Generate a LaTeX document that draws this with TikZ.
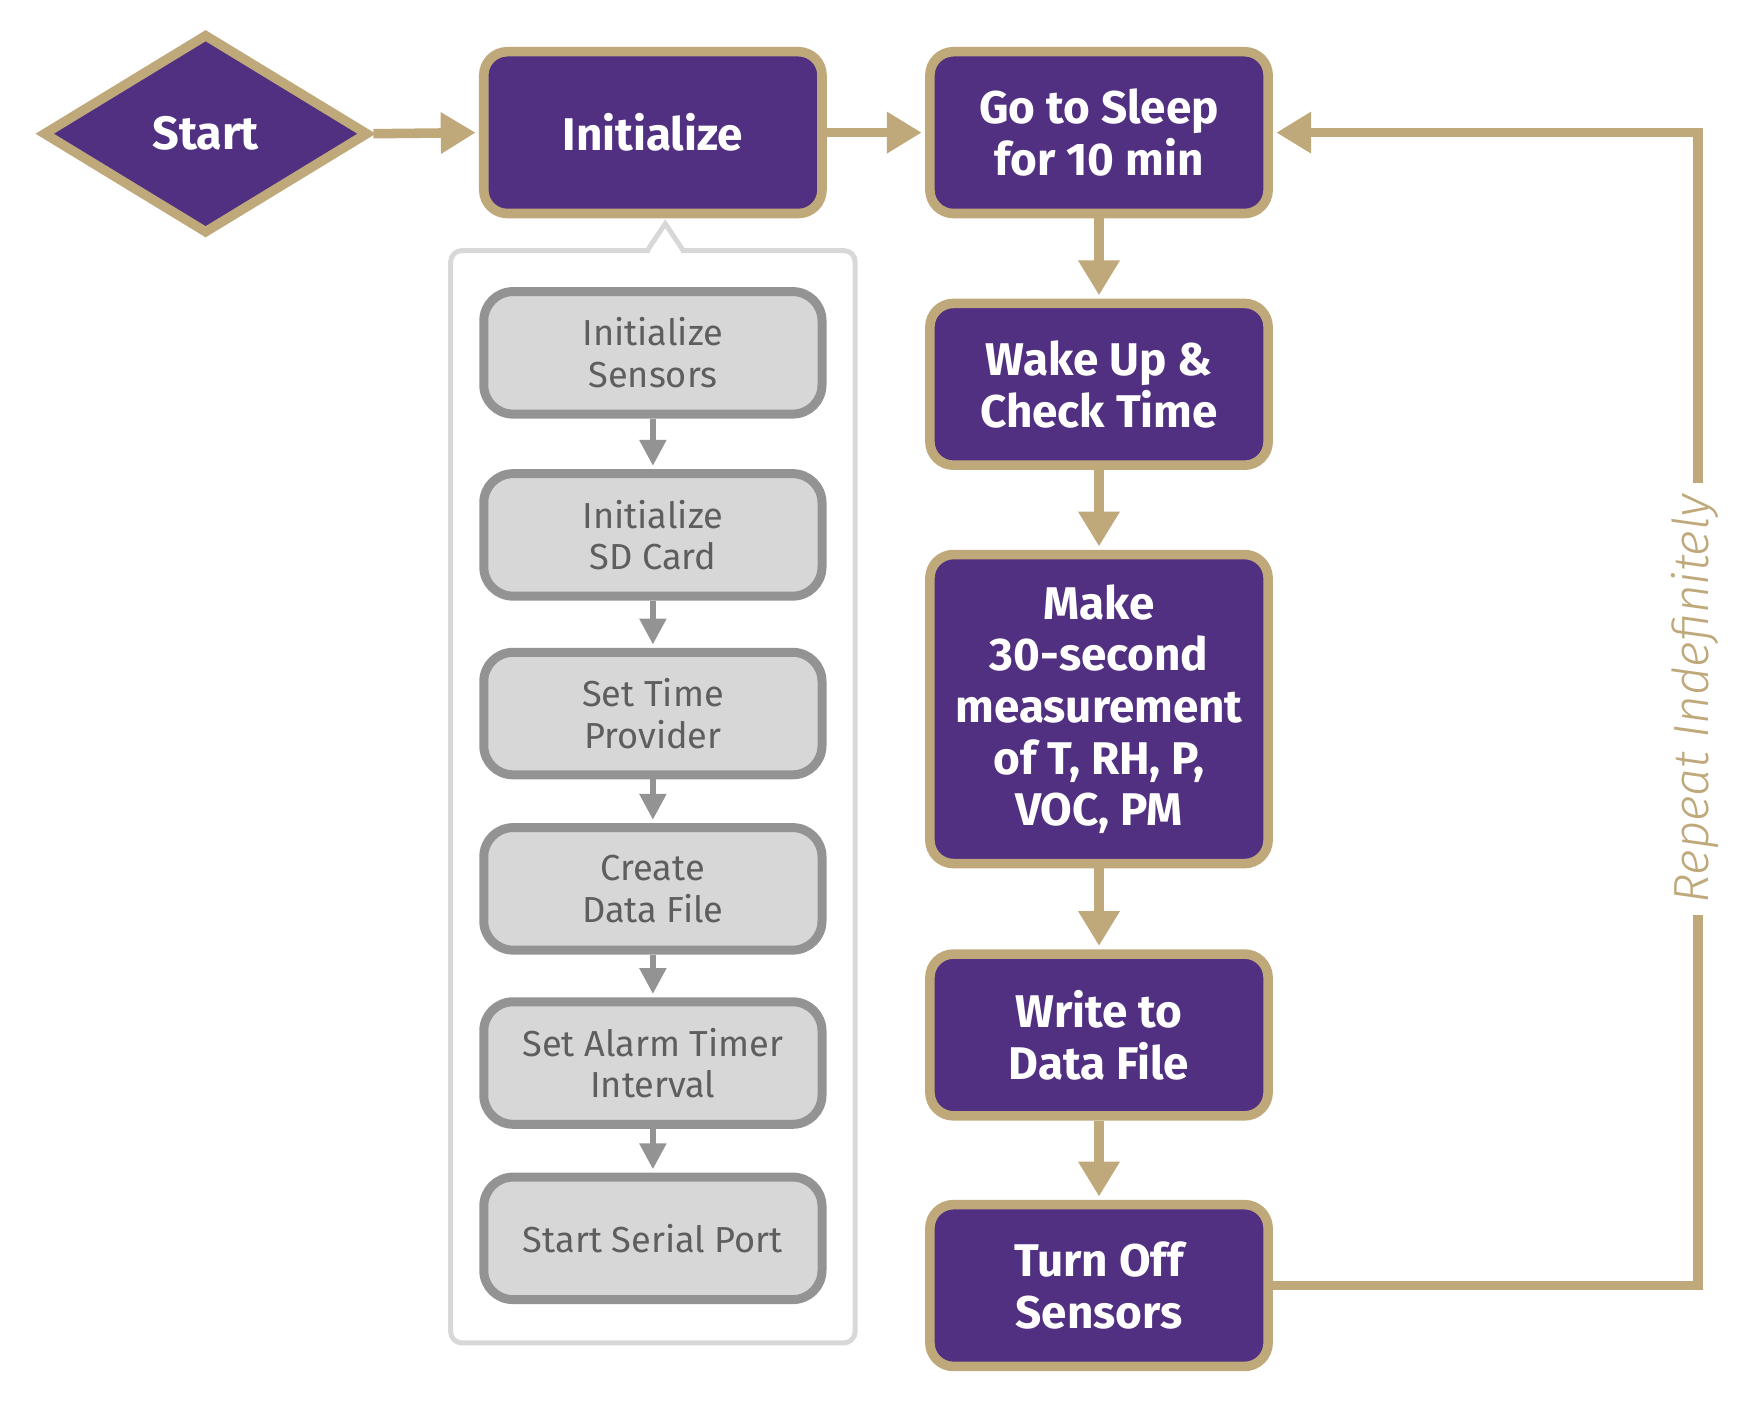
\documentclass[tikz,border=0pt]{standalone}
\usepackage{fontspec}
\setmainfont{Fira Sans}
\newfontfamily\repfont{Fira Sans Light}
\usetikzlibrary{shapes.geometric,arrows.meta}
\definecolor{uwpurple}{RGB}{82,48,129}
\definecolor{uwgold}{RGB}{191,168,122}
\definecolor{gfill}{RGB}{215,215,215}
\definecolor{gborder}{RGB}{147,147,147}
\definecolor{gtext}{RGB}{94,94,94}
\definecolor{panelc}{RGB}{216,216,216}
\begin{document}
\begin{tikzpicture}[x=0.5pt,y=-0.5pt,
  pbox/.style={draw=uwgold, line width=4.25pt, fill=uwpurple, rounded corners=10.5pt,
    minimum width=150.5pt, minimum height=72pt, inner sep=0pt, align=center,
    text=white, font=\fontsize{20.4}{23}\selectfont\bfseries},
  dnode/.style={diamond, draw=uwgold, line width=4.25pt, fill=uwpurple,
    minimum width=145pt, minimum height=89pt, inner sep=0pt,
    text=white, font=\fontsize{20.8}{23}\selectfont\bfseries},
  gbox/.style={draw=gborder, line width=4pt, fill=gfill, rounded corners=13pt,
    minimum width=150.5pt, minimum height=54.5pt, inner sep=0pt, align=center,
    text=gtext, font=\fontsize{16.1}{18.5}\selectfont},
  goldarrow/.style={draw=uwgold, line width=4.25pt, line join=miter,
    -{Triangle[length=15.5pt,width=17.5pt]}, shorten >=1.5pt},
  grayarrow/.style={draw=gborder, line width=2.5pt,
    -{Triangle[length=11.5pt,width=11.5pt]}, shorten >=1.5pt},
  panel/.style={draw=panelc, line width=2.2pt}
]
\useasboundingbox (0,0) rectangle (1568,1257);

% panel behind the initialisation steps
\draw[panel, rounded corners=5pt] (401,223) rectangle (761,1195);
\fill[white] (578,219) rectangle (606,227);
\draw[panel, line join=miter] (576,223) -- (592,199) -- (608,223);

% main nodes
\node[dnode] (start) at (183,119) {Start};
\node[pbox] (init) at (581,118) {Initialize};
\node[pbox] (sleep) at (978,118) {Go to Sleep\\for 10 min};
\node[pbox] (wake) at (978,342) {Wake Up \&\\Check Time};
\node[pbox, minimum height=137.5pt] (meas) at (978,631) {Make\\30-second\\measurement\\of T, RH, P,\\VOC, PM};
\node[pbox] (write) at (978,921) {Write to\\Data File};
\node[pbox] (off) at (978,1144) {Turn Off\\Sensors};

% gray sub-steps
\node[gbox] (g1) at (581,314) {Initialize\\Sensors};
\node[gbox] (g2) at (581,476) {Initialize\\SD Card};
\node[gbox] (g3) at (581,635) {Set Time\\Provider};
\node[gbox] (g4) at (581,791) {Create\\Data File};
\node[gbox] (g5) at (581,946) {Set Alarm Timer\\Interval};
\node[gbox] (g6) at (581,1102) {Start Serial Port};

% gold connectors
\draw[goldarrow] (start.east) -- (init.west);
\draw[goldarrow] (init.east) -- (sleep.west);
\draw[goldarrow] (sleep.south) -- (wake.north);
\draw[goldarrow] (wake.south) -- (meas.north);
\draw[goldarrow] (meas.south) -- (write.north);
\draw[goldarrow] (write.south) -- (off.north);

% loop
\coordinate (lb) at (1511,1144);
\coordinate (lt) at (1511,118);
\draw[goldarrow] (off.east) -- (lb) -- (lt) -- (sleep.east);
\node[rotate=90, anchor=base, fill=white, inner xsep=5pt, inner ysep=2pt,
  text=uwgold, font=\fontsize{22}{26}\selectfont\repfont\itshape] (rep) at (1520,622) {Repeat Indefinitely};

% gray connectors
\draw[grayarrow] (g1) -- (g2);
\draw[grayarrow] (g2) -- (g3);
\draw[grayarrow] (g3) -- (g4);
\draw[grayarrow] (g4) -- (g5);
\draw[grayarrow] (g5) -- (g6);
\end{tikzpicture}
\end{document}
